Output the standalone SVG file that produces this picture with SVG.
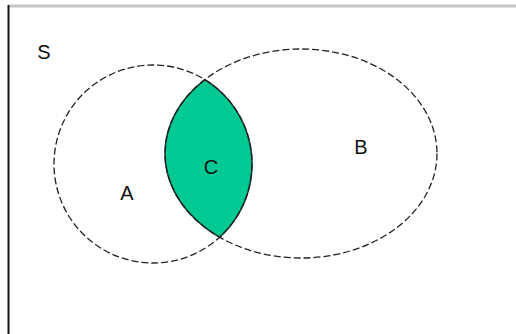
<svg xmlns="http://www.w3.org/2000/svg" width="516" height="334" viewBox="0 0 516 334">
<style>
.set{fill:none;stroke:#222;stroke-width:1.3;stroke-dasharray:7 3}
.lbl{font-family:"Liberation Sans",Arial,sans-serif;font-size:20px;fill:#111;text-anchor:middle}
</style>
<defs>
<clipPath id="clipA"><circle cx="153" cy="164" r="99"/></clipPath>
</defs>
<rect width="516" height="334" fill="#fff"/>
<g id="frame">
<line x1="8" y1="6" x2="516" y2="6" stroke="#c4c4c4" stroke-width="3"/>
<line x1="8.5" y1="5" x2="8.5" y2="334" stroke="#111" stroke-width="2"/>
</g>
<g id="C">
<ellipse cx="301" cy="153.5" rx="136" ry="104.5" fill="#00c994" stroke="#1a3a30" stroke-width="1.6" clip-path="url(#clipA)"/>
<circle cx="153" cy="164" r="99" fill="none" stroke="#1a3a30" stroke-width="1.6" clip-path="url(#clipB)"/>
<text class="lbl" x="211" y="174">C</text>
</g>
<defs>
<clipPath id="clipB"><ellipse cx="301" cy="153.5" rx="136" ry="104.5"/></clipPath>
</defs>
<g id="A">
<circle class="set" cx="153" cy="164" r="99"/>
<text class="lbl" x="127" y="200">A</text>
</g>
<g id="B">
<ellipse class="set" cx="301" cy="153.5" rx="136" ry="104.5"/>
<text class="lbl" x="361" y="154">B</text>
</g>
<g id="S">
<text class="lbl" x="44" y="59">S</text>
</g>
<g id="connectors"/>
</svg>
